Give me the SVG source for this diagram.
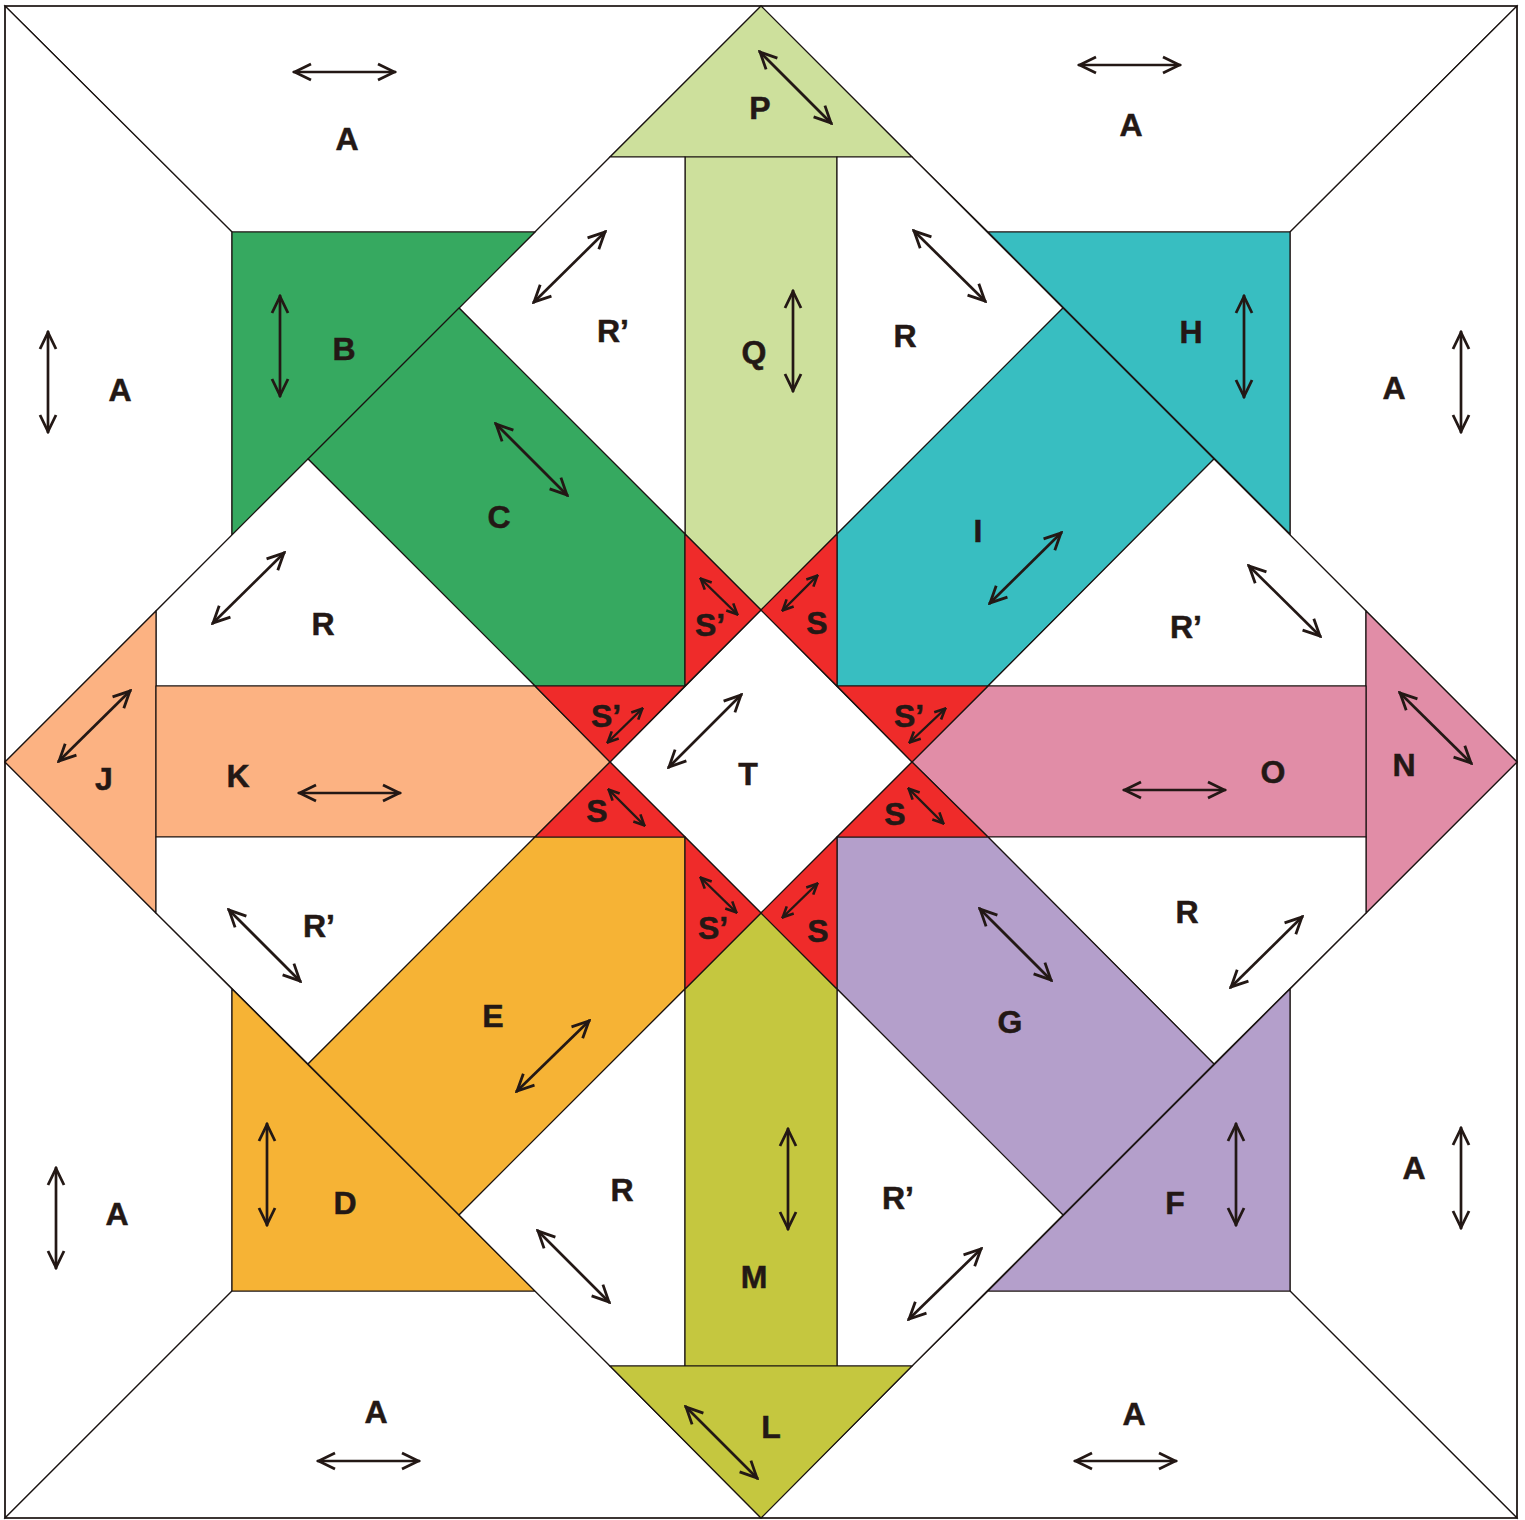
<svg xmlns="http://www.w3.org/2000/svg" width="1525" height="1520" viewBox="0 0 1525 1520">
<style>
polygon{stroke:#1a1311;stroke-width:1.2;stroke-linejoin:miter}
text{font-family:"Liberation Sans",Arial,sans-serif;font-weight:700;font-size:32px;fill:#231815;stroke:#231815;stroke-width:0.5;text-anchor:middle}
.w{fill:#fff}.red{fill:#ef2b2a}
.a line{stroke:#231815;stroke-width:2.7;fill:none;marker-start:url(#h);marker-end:url(#h)}
.a line.s{stroke-width:2.4;marker-start:url(#hs);marker-end:url(#hs)}
</style>
<defs>
<marker id="h" viewBox="-20 -10 22 20" refX="1" refY="0" markerWidth="22" markerHeight="20" markerUnits="userSpaceOnUse" orient="auto-start-reverse"><path d="M-17,-8 L-0.5,0 L-17,8" fill="none" stroke="#231815" stroke-width="2.8"/></marker>
<marker id="hs" viewBox="-14 -7 15 14" refX="0.5" refY="0" markerWidth="15" markerHeight="14" markerUnits="userSpaceOnUse" orient="auto-start-reverse"><path d="M-11,-5 L-0.5,0 L-11,5" fill="none" stroke="#231815" stroke-width="2.6"/></marker>
</defs>
<rect width="1525" height="1520" fill="#fff"/>
<g id="A-top-left"><polygon class="w" points="5,6 761,6 610,157 535,232 232,232"/><text x="347" y="150">A</text></g>
<g id="A-top-right"><polygon class="w" points="761,6 1517,6 1290,232 988,232 912,157"/><text x="1131" y="136">A</text></g>
<g id="A-left-top"><polygon class="w" points="5,6 232,232 232,535 156,611 5,762"/><text x="120" y="401">A</text></g>
<g id="A-right-top"><polygon class="w" points="1517,6 1517,762 1366,611 1290,535 1290,232"/><text x="1394" y="399">A</text></g>
<g id="A-left-bottom"><polygon class="w" points="5,762 156,913 232,989 232,1291 5,1518"/><text x="117" y="1225">A</text></g>
<g id="A-right-bottom"><polygon class="w" points="1517,762 1517,1518 1290,1291 1290,989 1366,913"/><text x="1414" y="1179">A</text></g>
<g id="A-bottom-left"><polygon class="w" points="5,1518 232,1291 535,1291 610,1366 761,1518"/><text x="376" y="1423">A</text></g>
<g id="A-bottom-right"><polygon class="w" points="761,1518 912,1366 988,1291 1290,1291 1517,1518"/><text x="1134" y="1425">A</text></g>
<g id="P"><polygon fill="#cde09c" points="761,6 912,157 610,157"/><text x="760" y="119">P</text></g>
<g id="Q"><polygon fill="#cde09c" points="685,157 837,157 837,534 761,610 685,534"/><text x="754" y="363">Q</text></g>
<g id="R-prime-top"><polygon class="w" points="610,157 685,157 685,534 459,308"/><text x="613" y="342">R’</text></g>
<g id="R-top"><polygon class="w" points="837,157 912,157 1063,308 837,534"/><text x="905" y="347">R</text></g>
<g id="B"><polygon fill="#36a960" points="232,232 535,232 232,535"/><text x="344" y="360">B</text></g>
<g id="C"><polygon fill="#36a960" points="459,308 685,534 685,686 535,686 308,459"/><text x="499" y="528">C</text></g>
<g id="H"><polygon fill="#38bec1" points="988,232 1290,232 1290,534"/><text x="1191" y="343">H</text></g>
<g id="I"><polygon fill="#38bec1" points="1063,308 1214,459 988,686 837,686 837,534"/><text x="978" y="542">I</text></g>
<g id="R-left"><polygon class="w" points="308,459 535,686 156,686 156,611"/><text x="323" y="635">R</text></g>
<g id="R-prime-right"><polygon class="w" points="1214,459 1366,611 1366,686 988,686"/><text x="1186" y="638">R’</text></g>
<g id="J"><polygon fill="#fcb282" points="156,611 156,913 5,762"/><text x="104" y="790">J</text></g>
<g id="K"><polygon fill="#fcb282" points="156,686 535,686 610,762 535,837 156,837"/><text x="238" y="787">K</text></g>
<g id="N"><polygon fill="#e18da7" points="1366,611 1517,762 1366,913"/><text x="1404" y="776">N</text></g>
<g id="O"><polygon fill="#e18da7" points="988,686 1366,686 1366,837 988,837 912,762"/><text x="1273" y="783">O</text></g>
<g id="R-prime-left"><polygon class="w" points="156,837 535,837 308,1064 156,913"/><text x="319" y="937">R’</text></g>
<g id="R-right"><polygon class="w" points="988,837 1366,837 1366,913 1214,1064"/><text x="1187" y="923">R</text></g>
<g id="E"><polygon fill="#f6b335" points="535,837 685,837 685,989 459,1215 308,1064"/><text x="493" y="1027">E</text></g>
<g id="D"><polygon fill="#f6b335" points="232,989 535,1291 232,1291"/><text x="345" y="1214">D</text></g>
<g id="G"><polygon fill="#b49fcb" points="837,837 988,837 1214,1064 1063,1215 837,989"/><text x="1010" y="1033">G</text></g>
<g id="F"><polygon fill="#b49fcb" points="1290,989 1290,1291 988,1291"/><text x="1175" y="1214">F</text></g>
<g id="R-bottom"><polygon class="w" points="685,989 685,1366 610,1366 459,1215"/><text x="622" y="1201">R</text></g>
<g id="R-prime-bottom"><polygon class="w" points="837,989 1063,1215 912,1366 837,1366"/><text x="898" y="1209">R’</text></g>
<g id="M"><polygon fill="#c5c73f" points="685,989 761,913 837,989 837,1366 685,1366"/><text x="754" y="1288">M</text></g>
<g id="L"><polygon fill="#c5c73f" points="610,1366 912,1366 761,1518"/><text x="771" y="1438">L</text></g>
<g id="T"><polygon class="w" points="761,610 912,762 761,913 610,762"/><text x="748" y="785">T</text></g>
<g id="S-prime-top"><polygon class="red" points="685,534 761,610 685,686"/><text x="710" y="636">S’</text></g>
<g id="S-top"><polygon class="red" points="837,534 837,686 761,610"/><text x="817" y="634">S</text></g>
<g id="S-prime-left"><polygon class="red" points="535,686 685,686 610,762"/><text x="606" y="727">S’</text></g>
<g id="S-prime-right"><polygon class="red" points="837,686 988,686 912,762"/><text x="909" y="727">S’</text></g>
<g id="S-left"><polygon class="red" points="610,762 685,837 535,837"/><text x="597" y="822">S</text></g>
<g id="S-right"><polygon class="red" points="912,762 988,837 837,837"/><text x="895" y="825">S</text></g>
<g id="S-prime-bottom"><polygon class="red" points="685,837 761,913 685,989"/><text x="713" y="939">S’</text></g>
<g id="S-bottom"><polygon class="red" points="761,913 837,837 837,989"/><text x="818" y="942">S</text></g>
<rect x="5" y="6" width="1512" height="1512" fill="none" stroke="#1a1311" stroke-width="1.4"/>
<g id="connectors" class="a">
<line x1="293" y1="72" x2="396" y2="72"/>
<line x1="1078" y1="65" x2="1181" y2="65"/>
<line x1="48" y1="331" x2="48" y2="433"/>
<line x1="1461" y1="331" x2="1461" y2="433"/>
<line x1="56" y1="1167" x2="56" y2="1269"/>
<line x1="1461" y1="1127" x2="1461" y2="1229"/>
<line x1="317" y1="1461" x2="420" y2="1461"/>
<line x1="1074" y1="1461" x2="1177" y2="1461"/>
<line x1="759" y1="51" x2="832" y2="124"/>
<line x1="793" y1="290" x2="793" y2="392"/>
<line x1="533" y1="303" x2="606" y2="231"/>
<line x1="913" y1="230" x2="986" y2="302"/>
<line x1="280" y1="295" x2="280" y2="397"/>
<line x1="495" y1="423" x2="568" y2="496"/>
<line x1="1244" y1="295" x2="1244" y2="398"/>
<line x1="989" y1="604" x2="1062" y2="532"/>
<line x1="212" y1="624" x2="285" y2="552"/>
<line x1="1248" y1="565" x2="1321" y2="637"/>
<line x1="58" y1="762" x2="131" y2="690"/>
<line x1="298" y1="793" x2="401" y2="793"/>
<line x1="1123" y1="790" x2="1226" y2="790"/>
<line x1="1399" y1="692" x2="1472" y2="764"/>
<line x1="228" y1="909" x2="301" y2="982"/>
<line x1="1230" y1="988" x2="1303" y2="916"/>
<line x1="516" y1="1092" x2="590" y2="1020"/>
<line x1="979" y1="908" x2="1052" y2="981"/>
<line x1="267" y1="1123" x2="267" y2="1226"/>
<line x1="1236" y1="1123" x2="1236" y2="1226"/>
<line x1="788" y1="1128" x2="788" y2="1230"/>
<line x1="537" y1="1230" x2="610" y2="1303"/>
<line x1="908" y1="1320" x2="982" y2="1248"/>
<line x1="685" y1="1406" x2="758" y2="1479"/>
<line x1="668" y1="768" x2="742" y2="694"/>
<line class="s" x1="700" y1="578" x2="738" y2="615"/>
<line class="s" x1="782" y1="611" x2="818" y2="575"/>
<line class="s" x1="607" y1="743" x2="643" y2="708"/>
<line class="s" x1="909" y1="743" x2="946" y2="708"/>
<line class="s" x1="608" y1="789" x2="645" y2="826"/>
<line class="s" x1="908" y1="788" x2="944" y2="824"/>
<line class="s" x1="700" y1="877" x2="737" y2="913"/>
<line class="s" x1="782" y1="918" x2="818" y2="883"/>
</g>
</svg>
